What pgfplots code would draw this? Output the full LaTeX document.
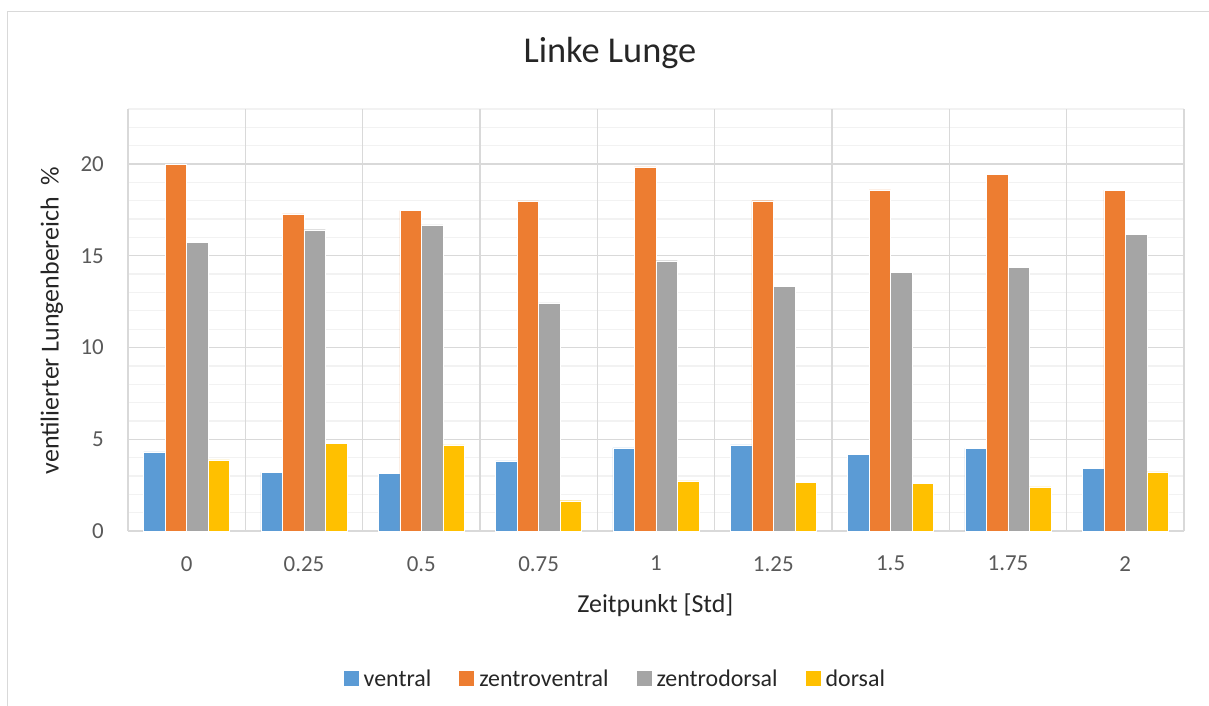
\documentclass[border=0pt]{standalone}
\usepackage{fontspec}
\setmainfont{Carlito}
\usepackage{pgfplots}
\pgfplotsset{compat=1.18}
\definecolor{cBlue}{HTML}{5B9BD5}
\definecolor{cOrange}{HTML}{ED7D31}
\definecolor{cGray}{HTML}{A5A5A5}
\definecolor{cYellow}{HTML}{FFC000}
\definecolor{gridmaj}{HTML}{D9D9D9}
\definecolor{gridmin}{HTML}{F2F2F2}
\definecolor{ticktext}{HTML}{595959}
\definecolor{frame}{HTML}{D9D9D9}
\begin{document}
\begin{tikzpicture}
\begin{axis}[
  at={(0bp,0bp)}, anchor=south west,
  scale only axis, width=1056bp, height=422bp,
  ybar=0pt, bar width=21.5bp,
  xmin=-0.5, xmax=8.5, ymin=0, ymax=23,
  xtick={0,...,8},
  xticklabels={0,0.25,0.5,0.75,1,1.25,1.5,1.75,2},
  extra x ticks={-0.5,0.5,1.5,2.5,3.5,4.5,5.5,6.5,7.5,8.5},
  extra x tick labels={},
  extra x tick style={grid=major},
  ytick={0,5,10,15,20},
  minor ytick={1,2,3,4,6,7,8,9,11,12,13,14,16,17,18,19,21,22,23},
  ymajorgrids, yminorgrids,
  major grid style={color=gridmaj, line width=1.3bp},
  minor grid style={color=gridmin, line width=1.3bp},
  axis line style={draw=none},
  major tick length=0pt, minor tick length=0pt,
  tick style={draw=none},
  /pgf/number format/assume math mode=true,
  ticklabel style={font=\fontsize{23}{27}\selectfont, text=ticktext, inner sep=0pt},
  xticklabel style={anchor=north, yshift=-25bp},
  yticklabel style={anchor=east, xshift=-24bp},
  title={Linke Lunge},
  title style={at={(0.4564,1.118)}, anchor=center, font=\fontsize{36.5}{43}\selectfont, text=black!85},
  xlabel={Zeitpunkt [Std]},
  xlabel style={at={(0.4995,-0.175)}, anchor=center, font=\fontsize{26}{31}\selectfont, text=black!85},
  ylabel={ventilierter Lungenbereich\ \ \%},
  ylabel style={at={(-0.072,0.4988)}, anchor=center, font=\fontsize{26}{31}\selectfont, text=black!85},
  legend columns=4,
  legend image code/.code={\fill[#1, draw=none] (0bp,-7.5bp) rectangle (15bp,7.5bp);},
  legend style={at={(0.4606,-0.3507)}, anchor=center, draw=none, fill=none,
    font=\fontsize{24}{28}\selectfont, text=black!85,
    nodes={inner sep=0pt},
    /tikz/every odd column/.append style={column sep=5bp},
    /tikz/every even column/.append style={column sep=28bp}},
]
\addplot[fill=cBlue, draw=white, line width=0.4bp] coordinates {
  (0,4.31) (1,3.20) (2,3.15) (3,3.82) (4,4.53) (5,4.69) (6,4.18) (7,4.51) (8,3.42)};
\addlegendentry{ventral}
\addplot[fill=cOrange, draw=white, line width=0.4bp] coordinates {
  (0,20.0) (1,17.28) (2,17.46) (3,17.99) (4,19.84) (5,18.0) (6,18.59) (7,19.42) (8,18.57)};
\addlegendentry{zentroventral}
\addplot[fill=cGray, draw=white, line width=0.4bp] coordinates {
  (0,15.75) (1,16.42) (2,16.69) (3,12.44) (4,14.73) (5,13.35) (6,14.08) (7,14.38) (8,16.17)};
\addlegendentry{zentrodorsal}
\addplot[fill=cYellow, draw=white, line width=0.4bp] coordinates {
  (0,3.87) (1,4.78) (2,4.69) (3,1.65) (4,2.73) (5,2.64) (6,2.58) (7,2.40) (8,3.22)};
\addlegendentry{dorsal}
\end{axis}
\draw[color=frame, line width=1.5bp] (-120.5bp,-175bp) -- (-120.5bp,519.5bp) -- (1081bp,519.5bp);
\pgfresetboundingbox
\path[use as bounding box] (-128bp,-175bp) rectangle (1081bp,531bp);
\end{tikzpicture}
\end{document}
